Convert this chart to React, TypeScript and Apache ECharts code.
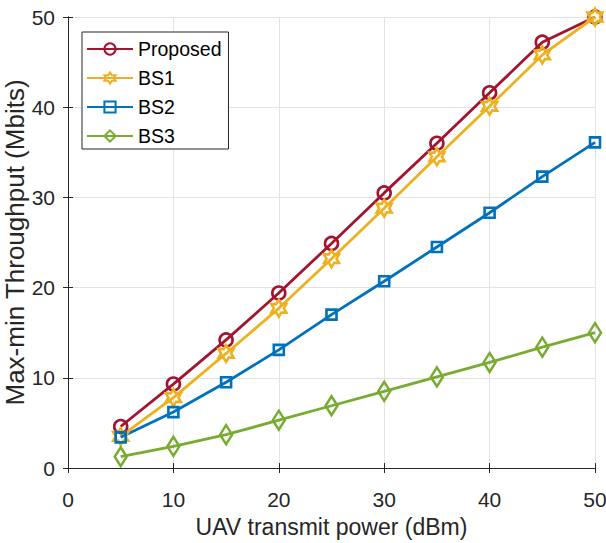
import React, { useEffect, useRef } from "react";
import * as echarts from "echarts";

const xValues = [5, 10, 15, 20, 25, 30, 35, 40, 45, 50];
const proposed = [4.6, 9.3, 14.2, 19.4, 24.9, 30.5, 36.0, 41.6, 47.2, 50.0];
const bs1 = [3.5, 7.8, 12.7, 17.7, 23.2, 28.8, 34.5, 40.1, 45.8, 50.0];
const bs2 = [3.4, 6.2, 9.5, 13.1, 17.0, 20.7, 24.5, 28.3, 32.3, 36.1];
const bs3 = [1.25, 2.4, 3.7, 5.3, 6.9, 8.5, 10.1, 11.7, 13.4, 15.0];
const seriesNames = ["Proposed", "BS1", "BS2", "BS3"];
const colors = ["#A2142F", "#EDB120", "#0072BD", "#77AC30"];

const hexagram =
  "path://M0,-1L0.289,-0.5L0.866,-0.5L0.577,0L0.866,0.5L0.289,0.5L0,1L-0.289,0.5L-0.866,0.5L-0.577,0L-0.866,-0.5L-0.289,-0.5Z";

const font = "'Liberation Sans', Arial, Helvetica, sans-serif";
const textColor = "#262626";

export default function App() {
  const ref = useRef<HTMLDivElement>(null);
  useEffect(() => {
    if (!ref.current) return;
    const chart = echarts.init(ref.current, undefined, { renderer: "svg" });
    const mk = (name: string, data: number[], color: string, symbol: string, size: any) => ({
      name,
      type: "line",
      data: xValues.map((x, i) => [x, data[i]]),
      symbol,
      symbolSize: size,
      showAllSymbol: true,
      lineStyle: { color, width: 2.8 },
      itemStyle: { color: "rgba(255,255,255,0)", borderColor: color, borderWidth: 2.6 },
      emphasis: { disabled: true },
      z: 3,
    });
    const axisCommon = {
      min: 0,
      max: 50,
      interval: 10,
      axisLine: { show: true, lineStyle: { color: textColor, width: 1 } },
      axisTick: { show: true, inside: true, length: 5, lineStyle: { color: textColor } },
    };
    chart.setOption({
      animation: false,
      backgroundColor: "#ffffff",
      grid: { left: 68, top: 17, right: 11, bottom: 75, containLabel: false, outerBoundsMode: "none" },
      xAxis: [
        {
          ...axisCommon,
          type: "value",
          position: "bottom",
          name: "UAV transmit power (dBm)",
          nameLocation: "middle",
          nameGap: 47,
          nameMoveOverlap: false,
          nameTextStyle: { fontFamily: font, fontSize: 23, color: textColor },
          axisLabel: { fontFamily: font, fontSize: 21, color: textColor, margin: 21 },
          splitLine: { show: true, lineStyle: { color: "#e3e3e3", width: 1 } },
        },
        {
          ...axisCommon,
          type: "value",
          position: "top",
          axisLabel: { show: false },
          splitLine: { show: false },
        },
      ],
      yAxis: [
        {
          ...axisCommon,
          type: "value",
          position: "left",
          name: "Max-min Throughput (Mbits)",
          nameLocation: "middle",
          nameGap: 40,
          nameMoveOverlap: false,
          nameTextStyle: { fontFamily: font, fontSize: 26, color: textColor },
          axisLabel: { fontFamily: font, fontSize: 21, color: textColor, margin: 13 },
          splitLine: { show: true, lineStyle: { color: "#e3e3e3", width: 1 } },
        },
        {
          ...axisCommon,
          type: "value",
          position: "right",
          axisLabel: { show: false },
          splitLine: { show: false },
        },
      ],
      legend: {
        orient: "vertical",
        left: 82,
        top: 32,
        padding: [7, 7, 3, 4],
        itemWidth: 46,
        itemHeight: 14,
        itemGap: 9,
        backgroundColor: "#ffffff",
        borderColor: textColor,
        borderWidth: 1,
        borderRadius: 0,
        data: seriesNames,
        textStyle: { fontFamily: font, fontSize: 19.5, color: "#000000" },
      },
      series: [
        mk(seriesNames[0], proposed, colors[0], "circle", 13),
        mk(seriesNames[1], bs1, colors[1], hexagram, [15, 17]),
        mk(seriesNames[2], bs2, colors[2], "rect", 10),
        mk(seriesNames[3], bs3, colors[3], "diamond", [12, 19]),
      ],
    });
    return () => chart.dispose();
  }, []);
  return <div ref={ref} style={{ width: 606, height: 543, position: "absolute", left: 0, top: 0 }} />;
}
